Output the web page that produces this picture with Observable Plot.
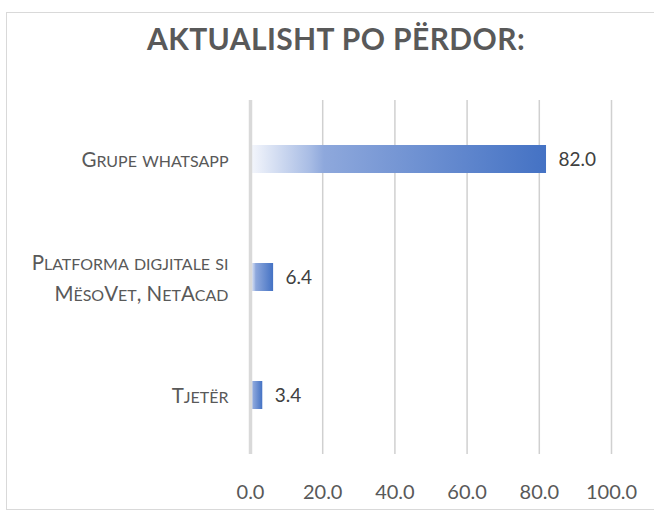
<!DOCTYPE html>
<html><head><meta charset="utf-8">
<script src="https://cdn.jsdelivr.net/npm/d3@7"></script>
<script src="https://cdn.jsdelivr.net/npm/@observablehq/plot@0.6"></script>
<style>
html,body{margin:0;padding:0;background:#fff;width:654px;height:512px;overflow:hidden;}
#frame{position:absolute;left:6px;top:12px;width:660px;height:498px;border:1px solid #d9d9d9;box-sizing:border-box;}
#title{position:absolute;left:6px;width:660px;top:20px;text-align:center;font-family:Lato,sans-serif;font-weight:bold;font-size:30px;line-height:36px;color:#595959;letter-spacing:0.4px;}
#chart{position:absolute;left:0;top:0;}
</style></head>
<body>
<div id="frame"></div>
<div id="title">AKTUALISHT PO PËRDOR:</div>
<div id="chart"></div>
<script>
const categories = ["Grupe whatsapp", "Platforma digjitale si MësoVet, NetAcad", "Tjetër"];
const categoryLabels = ["Grupe whatsapp", "Platforma digjitale si\nMësoVet, NetAcad", "Tjetër"];
const values = [82.0, 6.4, 3.4];
const xTicks = [0, 20, 40, 60, 80, 100];

const data = categories.map((c, i) => ({category: c, value: values[i]}));
const labelOf = new Map(categories.map((c, i) => [c, categoryLabels[i]]));

const chart = Plot.plot({
  width: 654,
  height: 512,
  marginLeft: 250,
  marginRight: 43,
  marginTop: 100,
  marginBottom: 58,
  style: {fontFamily: "Lato, sans-serif", background: "transparent", overflow: "visible"},
  x: {domain: [0, 100], ticks: xTicks},
  y: {domain: categories, padding: 0},
  marks: [
    () => {
      const svg = d3.create("svg:defs");
      const g = svg.append("linearGradient").attr("id", "barGrad").attr("x1", "0").attr("x2", "1").attr("y1", "0").attr("y2", "0");
      [[0, "#f5f7fc"], [0.2, "#a9bde5"], [0.25, "#8ea8dc"], [1, "#4472c4"]].forEach(([o, c]) =>
        g.append("stop").attr("offset", o).attr("stop-color", c));
      return svg.node();
    },
    Plot.gridX(xTicks.filter(d => d > 0), {stroke: "#d0d0d0", strokeOpacity: 1, strokeWidth: 1.5}),
    Plot.barX(data, {x: "value", y: "category", fill: "url(#barGrad)", insetTop: 45, insetBottom: 45}),
    Plot.ruleX([0], {stroke: "#d9d9d9", strokeWidth: 3.5}),
    Plot.text(data, {x: "value", y: "category", text: d => d3.format(".1f")(d.value), textAnchor: "start", dx: 12, fontSize: 19, fill: "#404040"}),
    Plot.axisX({ticks: xTicks, tickSize: 0, tickPadding: 30, tickFormat: d3.format(".1f"), fontSize: 20, fill: "#595959", label: null}),
    Plot.axisY({tickSize: 0, tickPadding: 22, tickFormat: d => labelOf.get(d), fontSize: 20.5, fill: "#595959", label: null, lineHeight: 1.5, dy: -2})
  ]
});
document.getElementById("chart").appendChild(chart);

// manual small caps: lowercase letters become capitals at 78% size
function smallCaps(node) {
  const s = node.textContent;
  while (node.firstChild) node.removeChild(node.firstChild);
  let runs = [];
  for (const ch of s) {
    const lower = ch !== ch.toUpperCase();
    const last = runs[runs.length - 1];
    if (last && last.lower === lower) last.t += lower ? ch.toUpperCase() : ch;
    else runs.push({lower, t: lower ? ch.toUpperCase() : ch});
  }
  for (const r of runs) {
    const ts = document.createElementNS("http://www.w3.org/2000/svg", "tspan");
    if (r.lower) ts.setAttribute("font-size", "78%");
    ts.textContent = r.t;
    node.appendChild(ts);
  }
}
chart.querySelectorAll('g[aria-label="y-axis tick label"] text').forEach(t => {
  const spans = t.querySelectorAll("tspan");
  if (spans.length) spans.forEach(smallCaps); else smallCaps(t);
});
</script>
</body></html>
